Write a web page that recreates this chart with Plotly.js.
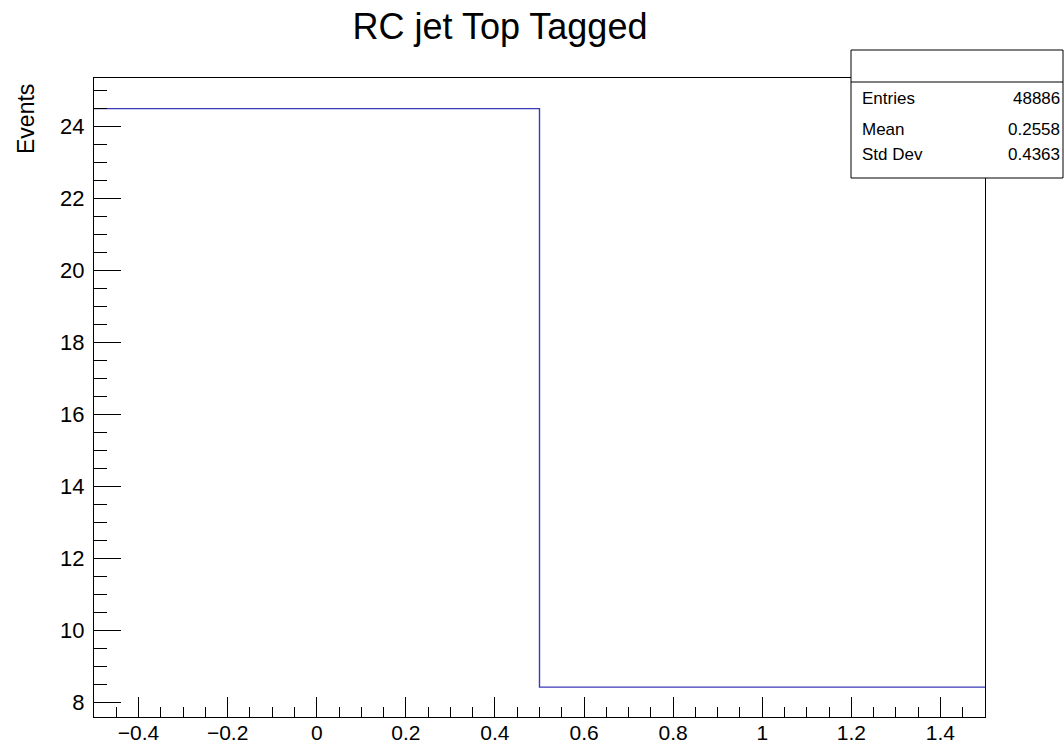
<!DOCTYPE html>
<html>
<head>
<meta charset="utf-8">
<script src="https://cdn.plot.ly/plotly-3.0.1.min.js"></script>
<style>html,body{margin:0;padding:0;background:#fff;}#chart{width:1064px;height:747px;}</style>
</head>
<body>
<div id="chart"></div>
<script>
const binEdges = [-0.5, 0.5, 1.5];
const binValues = [24.5, 8.42];
const statLabels = ["Entries", "Mean", "Std Dev"];
const statValues = ["48886", "0.2558", "0.4363"];
const chartTitle = "RC jet Top Tagged";
const yTitle = "Events";

const W = 1064, H = 747;
const M = {l: 94, r: 79, t: 78, b: 30};
const pw = W - M.l - M.r, ph = H - M.t - M.b;
const px = x => (x - M.l) / pw;
const py = y => (H - M.b - y) / ph;

const xs = binEdges.slice();
const ys = binValues.concat([binValues[binValues.length - 1]]);

const font = "Liberation Sans, Arial, Helvetica, sans-serif";

const trace = {
  x: xs, y: ys, type: 'scatter', mode: 'lines',
  line: {shape: 'hv', color: '#3a3ab8', width: 1.4},
  hoverinfo: 'skip', showlegend: false
};

const annotations = [];
statLabels.forEach((lab, i) => {
  const yy = [98, 130, 155][i];
  annotations.push({xref: 'paper', yref: 'paper', x: px(860), y: py(yy), text: lab,
    showarrow: false, xanchor: 'left', yanchor: 'middle', font: {family: font, size: 17, color: '#000'}});
  annotations.push({xref: 'paper', yref: 'paper', x: px(1062), y: py(yy), text: statValues[i],
    showarrow: false, xanchor: 'right', yanchor: 'middle', font: {family: font, size: 17, color: '#000'}});
});

const layout = {
  width: W, height: H,
  margin: M,
  paper_bgcolor: '#fff', plot_bgcolor: '#fff',
  font: {family: font, color: '#000'},
  title: {text: chartTitle, x: px(500), xref: 'paper', xanchor: 'center', y: 1 - 26 / H, yanchor: 'middle',
    yref: 'container', font: {family: font, size: 36, color: '#000'}},
  xaxis: {
    range: [-0.5, 1.5], showgrid: false, zeroline: false,
    showline: true, linecolor: '#000', linewidth: 1, mirror: true,
    ticks: 'inside', ticklen: 20, tickwidth: 1, tickcolor: '#000',
    dtick: 0.2, tick0: 0, tickfont: {family: font, size: 21, color: '#000'},
    ticklabelstandoff: -3,
    minor: {ticks: 'inside', ticklen: 10, dtick: 0.05, tickcolor: '#000', tickwidth: 1, showgrid: false}
  },
  yaxis: {
    range: [7.59, 25.35], showgrid: false, zeroline: false,
    showline: true, linecolor: '#000', linewidth: 1, mirror: true,
    ticks: 'inside', ticklen: 27, tickwidth: 1, tickcolor: '#000',
    dtick: 2, tick0: 0, tickfont: {family: font, size: 22, color: '#000'},
    ticklabelstandoff: 4,
    minor: {ticks: 'inside', ticklen: 13, dtick: 0.5, tickcolor: '#000', tickwidth: 1, showgrid: false}
  },
  shapes: [
    {type: 'rect', xref: 'paper', yref: 'paper', x0: px(851), x1: px(1063), y0: py(178), y1: py(50),
      line: {color: '#000', width: 1}, fillcolor: '#fff', layer: 'above'},
    {type: 'line', xref: 'paper', yref: 'paper', x0: px(851), x1: px(1063), y0: py(82), y1: py(82),
      line: {color: '#000', width: 1}, layer: 'above'}
  ],
  annotations: annotations.concat([
    {xref: 'paper', yref: 'paper', x: px(26), y: py(82), text: yTitle, textangle: -90,
      showarrow: false, xanchor: 'center', yanchor: 'top', font: {family: font, size: 23, color: '#000'}}
  ])
};

Plotly.newPlot('chart', [trace], layout, {displayModeBar: false, staticPlot: true});
</script>
</body>
</html>
